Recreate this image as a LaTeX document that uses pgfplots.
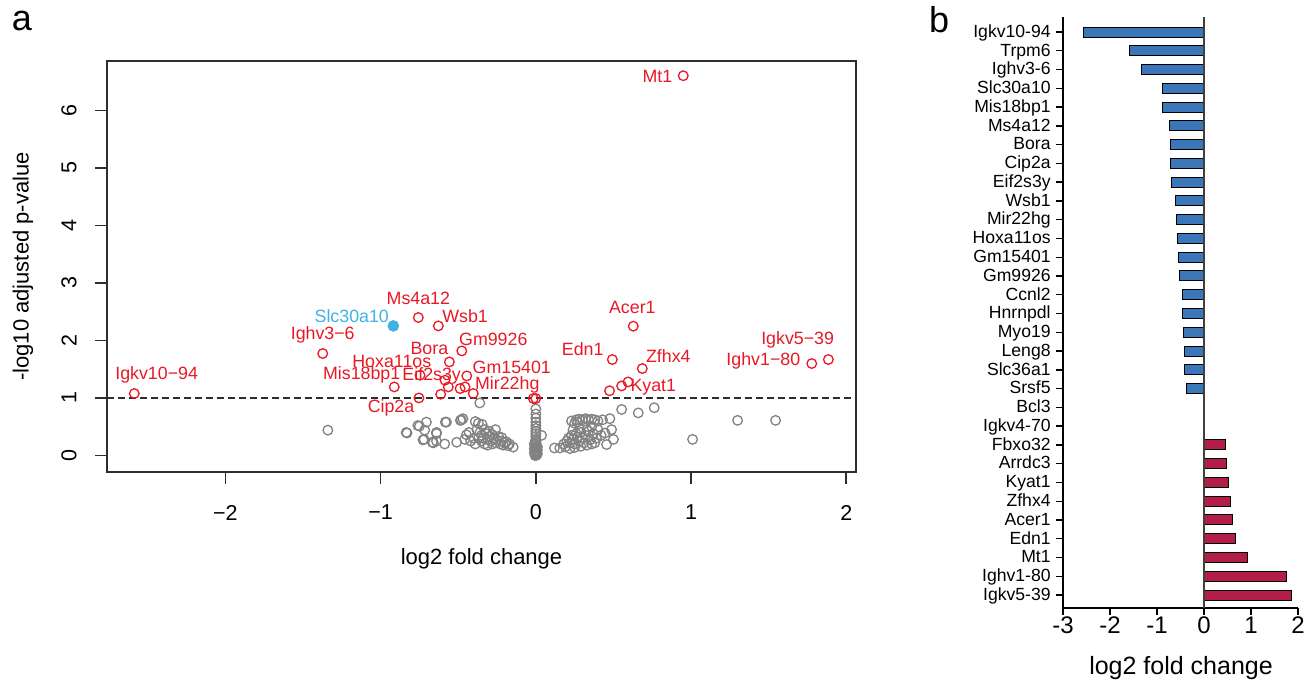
\documentclass[border=0pt]{standalone}
\usepackage{fontspec}
\setmainfont{Liberation Sans}
\usepackage{pgfplots}
\pgfplotsset{compat=1.18}
\definecolor{myred}{RGB}{232,24,36}
\definecolor{mygray}{RGB}{130,130,130}
\definecolor{mycyan}{RGB}{64,178,228}
\definecolor{barblue}{RGB}{58,118,184}
\definecolor{barred}{RGB}{178,30,72}
\definecolor{axisgray}{RGB}{45,45,45}
\begin{document}
\begin{tikzpicture}
\useasboundingbox (0,0) rectangle (657.5pt,342pt);
% ---------------- panel a ----------------
\begin{axis}[
  at={(53.5pt,106pt)}, anchor=south west,
  scale only axis, width=374.5pt, height=205.5pt,
  xmin=-2.763, xmax=2.063, ymin=-0.287, ymax=6.856,
  axis line style={axisgray, line width=0.75pt},
  xtick={-2,-1,0,1,2}, xticklabels={−2,−1,0,1,2},
  ytick={0,1,2,3,4,5,6}, yticklabels={0,1,2,3,4,5,6},
  tick align=outside, xtick pos=bottom, ytick pos=left,
  major tick length=6pt,
  tick style={axisgray, line width=0.75pt},
  xticklabel style={font=\fontsize{10.75}{12}\selectfont, anchor=center, inner sep=0pt, yshift=-14.25pt},
  yticklabel style={font=\fontsize{10.75}{12}\selectfont, inner sep=0pt, xshift=-13pt, rotate=90, anchor=center},
  clip=false,
]
\addplot[dash pattern=on 3.3pt off 2.2pt, line width=0.7pt, axisgray] coordinates {(-2.763,1) (2.063,1)};
% not significant genes
\addplot[only marks, mark=o, mark size=2.4pt, mygray, mark options={line width=0.65pt}] coordinates {
(-1.34,0.44)
(-0.83,0.39) (-0.835,0.40) (-0.76,0.52) (-0.75,0.51) (-0.705,0.58) (-0.716,0.44)
(-0.64,0.40) (-0.64,0.38) (-0.583,0.58) (-0.576,0.58) (-0.72,0.28) (-0.727,0.27)
(-0.667,0.23) (-0.66,0.22) (-0.64,0.25) (-0.587,0.20) (-0.51,0.23)
(-0.486,0.61) (-0.47,0.64) (-0.48,0.62) (-0.458,0.28) (-0.447,0.36)
(-0.39,0.59) (-0.37,0.56) (-0.346,0.54) (-0.361,0.913)
(-0.146,0.145) (-0.2,0.22) (-0.26,0.45) (-0.22,0.31)
(-0.38,0.45) (-0.36,0.40) (-0.35,0.35) (-0.34,0.30) (-0.33,0.45) (-0.32,0.38)
(-0.31,0.28) (-0.30,0.33) (-0.30,0.42) (-0.29,0.25) (-0.28,0.36) (-0.27,0.30)
(-0.26,0.22) (-0.25,0.27) (-0.24,0.33) (-0.23,0.20) (-0.22,0.25) (-0.21,0.18)
(-0.19,0.24) (-0.18,0.17) (-0.17,0.20) (-0.35,0.25) (-0.33,0.20) (-0.31,0.18)
(-0.28,0.20) (-0.40,0.30) (-0.42,0.25) (-0.43,0.40) (-0.39,0.20) (-0.37,0.30)
(0,0.81) (0,0.72) (0,0.65) (0,0.58) (0,0.52) (0,0.47) (0,0.42) (0,0.38)
(0,0.33) (0,0.28) (0,0.25) (0,0.22) (0,0.19) (0,0.16) (0,0.13) (0,0.10)
(0,0.08) (0,0.06) (0,0.04) (0,0.02) (0,0.0) (-0.01,0.05) (0.01,0.03)
(-0.01,0.12) (0.01,0.15) (-0.01,0.2) (0.01,0.09) (0.005,0.01) (-0.005,0.0)
(0.037,0.35)
(0.12,0.13) (0.155,0.13) (0.553,0.80) (0.66,0.74) (0.763,0.83) (0.477,0.64)
(0.488,0.45) (0.445,0.39) (0.5,0.28) (0.456,0.19) (0.38,0.22)
(0.23,0.60) (0.26,0.62) (0.28,0.63) (0.30,0.62) (0.32,0.64) (0.34,0.62)
(0.36,0.63) (0.38,0.62) (0.40,0.60) (0.43,0.62) (0.25,0.56) (0.27,0.58)
(0.18,0.20) (0.20,0.25) (0.21,0.30) (0.22,0.22) (0.23,0.35) (0.24,0.28)
(0.25,0.20) (0.26,0.38) (0.27,0.32) (0.28,0.25) (0.29,0.40) (0.30,0.30)
(0.31,0.22) (0.32,0.35) (0.33,0.18) (0.34,0.42) (0.35,0.27) (0.36,0.20)
(0.37,0.38) (0.39,0.30) (0.40,0.45) (0.42,0.35) (0.19,0.15) (0.22,0.12)
(0.25,0.14) (0.29,0.16) (0.33,0.45) (0.28,0.47) (0.24,0.45) (0.36,0.50)
(1.30,0.61) (1.545,0.61) (1.01,0.28)
};
% significant genes
\addplot[only marks, mark=o, mark size=2.4pt, myred, mark options={line width=0.65pt}] coordinates {
(0.950,6.60) (0.628,2.247) (0.493,1.668) (0.686,1.511)
(0.594,1.278) (0.553,1.209) (0.475,1.125)
(1.885,1.668) (1.778,1.598)
(-2.587,1.077) (-1.373,1.772) (-0.757,2.398) (-0.628,2.252)
(-0.477,1.817) (-0.557,1.626) (-0.445,1.383)
(-0.746,1.395) (-0.585,1.308) (-0.564,1.191) (-0.488,1.163) (-0.456,1.191)
(-0.403,1.077) (-0.912,1.191) (-0.753,1.0) (-0.613,1.064)
(-0.016,0.99) (0,0.99)
};
\addplot[only marks, mark=*, mark size=2.7pt, mycyan, mark options={draw=mycyan}] coordinates {(-0.918,2.252)};
\begin{scope}[every node/.style={font=\fontsize{8.9}{10}\selectfont, text=myred, inner sep=0pt}]
\node at (axis cs:-2.443,1.395) {Igkv10−94};
\node at (axis cs:-1.373,2.09) {Ighv3−6};
\node[text=mycyan] at (axis cs:-1.186,2.421) {Slc30a10};
\node at (axis cs:-0.757,2.729) {Ms4a12};
\node at (axis cs:-0.456,2.421) {Wsb1};
\node at (axis cs:-0.274,2.016) {Gm9926};
\node at (axis cs:-0.686,1.859) {Bora};
\node at (axis cs:-0.928,1.626) {Hoxa11os};
\node at (axis cs:-0.155,1.529) {Gm15401};
\node at (axis cs:-1.122,1.395) {Mis18bp1};
\node at (axis cs:-0.671,1.377) {Eif2s3y};
\node at (axis cs:-0.184,1.221) {Mir22hg};
\node at (axis cs:-0.933,0.826) {Cip2a};
\node at (axis cs:0.783,6.595) {Mt1};
\node at (axis cs:0.622,2.565) {Acer1};
\node at (axis cs:0.302,1.842) {Edn1};
\node at (axis cs:0.854,1.725) {Zfhx4};
\node at (axis cs:0.757,1.191) {Kyat1};
\node at (axis cs:1.687,2.003) {Igkv5−39};
\node at (axis cs:1.466,1.643) {Ighv1−80};
\end{scope}
\end{axis}
% ---------------- panel b ----------------
\begin{axis}[
  at={(531.5pt,38pt)}, anchor=south west,
  scale only axis, width=117.5pt, height=295.5pt,
  xmin=-3, xmax=2, ymin=-0.69, ymax=30.8,
  axis x line*=bottom, axis y line*=left,
  axis line style={-, black, line width=0.7pt},
  xtick={-3,-2,-1,0,1,2}, xticklabels={-3,-2,-1,0,1,2},
  ytick={0,1,...,30},
  yticklabels={Igkv5-39,Ighv1-80,Mt1,Edn1,Acer1,Zfhx4,Kyat1,Arrdc3,Fbxo32,Igkv4-70,Bcl3,Srsf5,Slc36a1,Leng8,Myo19,Hnrnpdl,Ccnl2,Gm9926,Gm15401,Hoxa11os,Mir22hg,Wsb1,Eif2s3y,Cip2a,Bora,Ms4a12,Mis18bp1,Slc30a10,Ighv3-6,Trpm6,Igkv10-94},
  tick align=outside, major tick length=3.5pt,
  tick style={black, line width=0.7pt},
  xticklabel style={font=\fontsize{12}{14}\selectfont, anchor=center, inner sep=0pt, yshift=-5pt},
  yticklabel style={font=\fontsize{8.8}{10}\selectfont, anchor=mid east, inner sep=0pt, xshift=-2.5pt},
  clip=false,
]
\addplot[xbar, bar shift=0pt, bar width=5pt, fill=barblue, draw=black, line width=0.5pt] coordinates {
(-2.56,30) (-1.58,29) (-1.34,28) (-0.89,27) (-0.885,26) (-0.73,25) (-0.72,24)
(-0.72,23) (-0.69,22) (-0.60,21) (-0.59,20) (-0.56,19) (-0.545,18) (-0.53,17)
(-0.46,16) (-0.46,15) (-0.446,14) (-0.42,13) (-0.41,12) (-0.38,11)
};
\addplot[xbar, bar shift=0pt, bar width=5pt, fill=barblue!40!black, draw=barblue!40!black, line width=0.5pt] coordinates {(-0.012,10)};
\addplot[xbar, bar shift=0pt, bar width=5pt, fill=barred, draw=barred, line width=0.3pt] coordinates {(0.004,9)};
\addplot[xbar, bar shift=0pt, bar width=5pt, fill=barred, draw=black, line width=0.5pt] coordinates {
(0.46,8) (0.47,7) (0.53,6) (0.57,5) (0.60,4) (0.67,3) (0.93,2) (1.75,1) (1.86,0)
};
\draw[black!75, line width=0.6pt] (axis cs:0,-0.69) -- (axis cs:0,30.8);
\end{axis}
% labels
\node[font=\fontsize{11}{13}\selectfont] at (240.75pt,62.5pt) {log2 fold change};
\node[font=\fontsize{11}{13}\selectfont, rotate=90] at (11.5pt,208.75pt) {-log10 adjusted p-value};
\node[font=\fontsize{12.5}{15}\selectfont] at (590.5pt,8pt) {log2 fold change};
\node[font=\fontsize{18}{20}\selectfont] at (11pt,331.5pt) {a};
\node[font=\fontsize{18}{20}\selectfont] at (469.5pt,332pt) {b};
\end{tikzpicture}
\end{document}
